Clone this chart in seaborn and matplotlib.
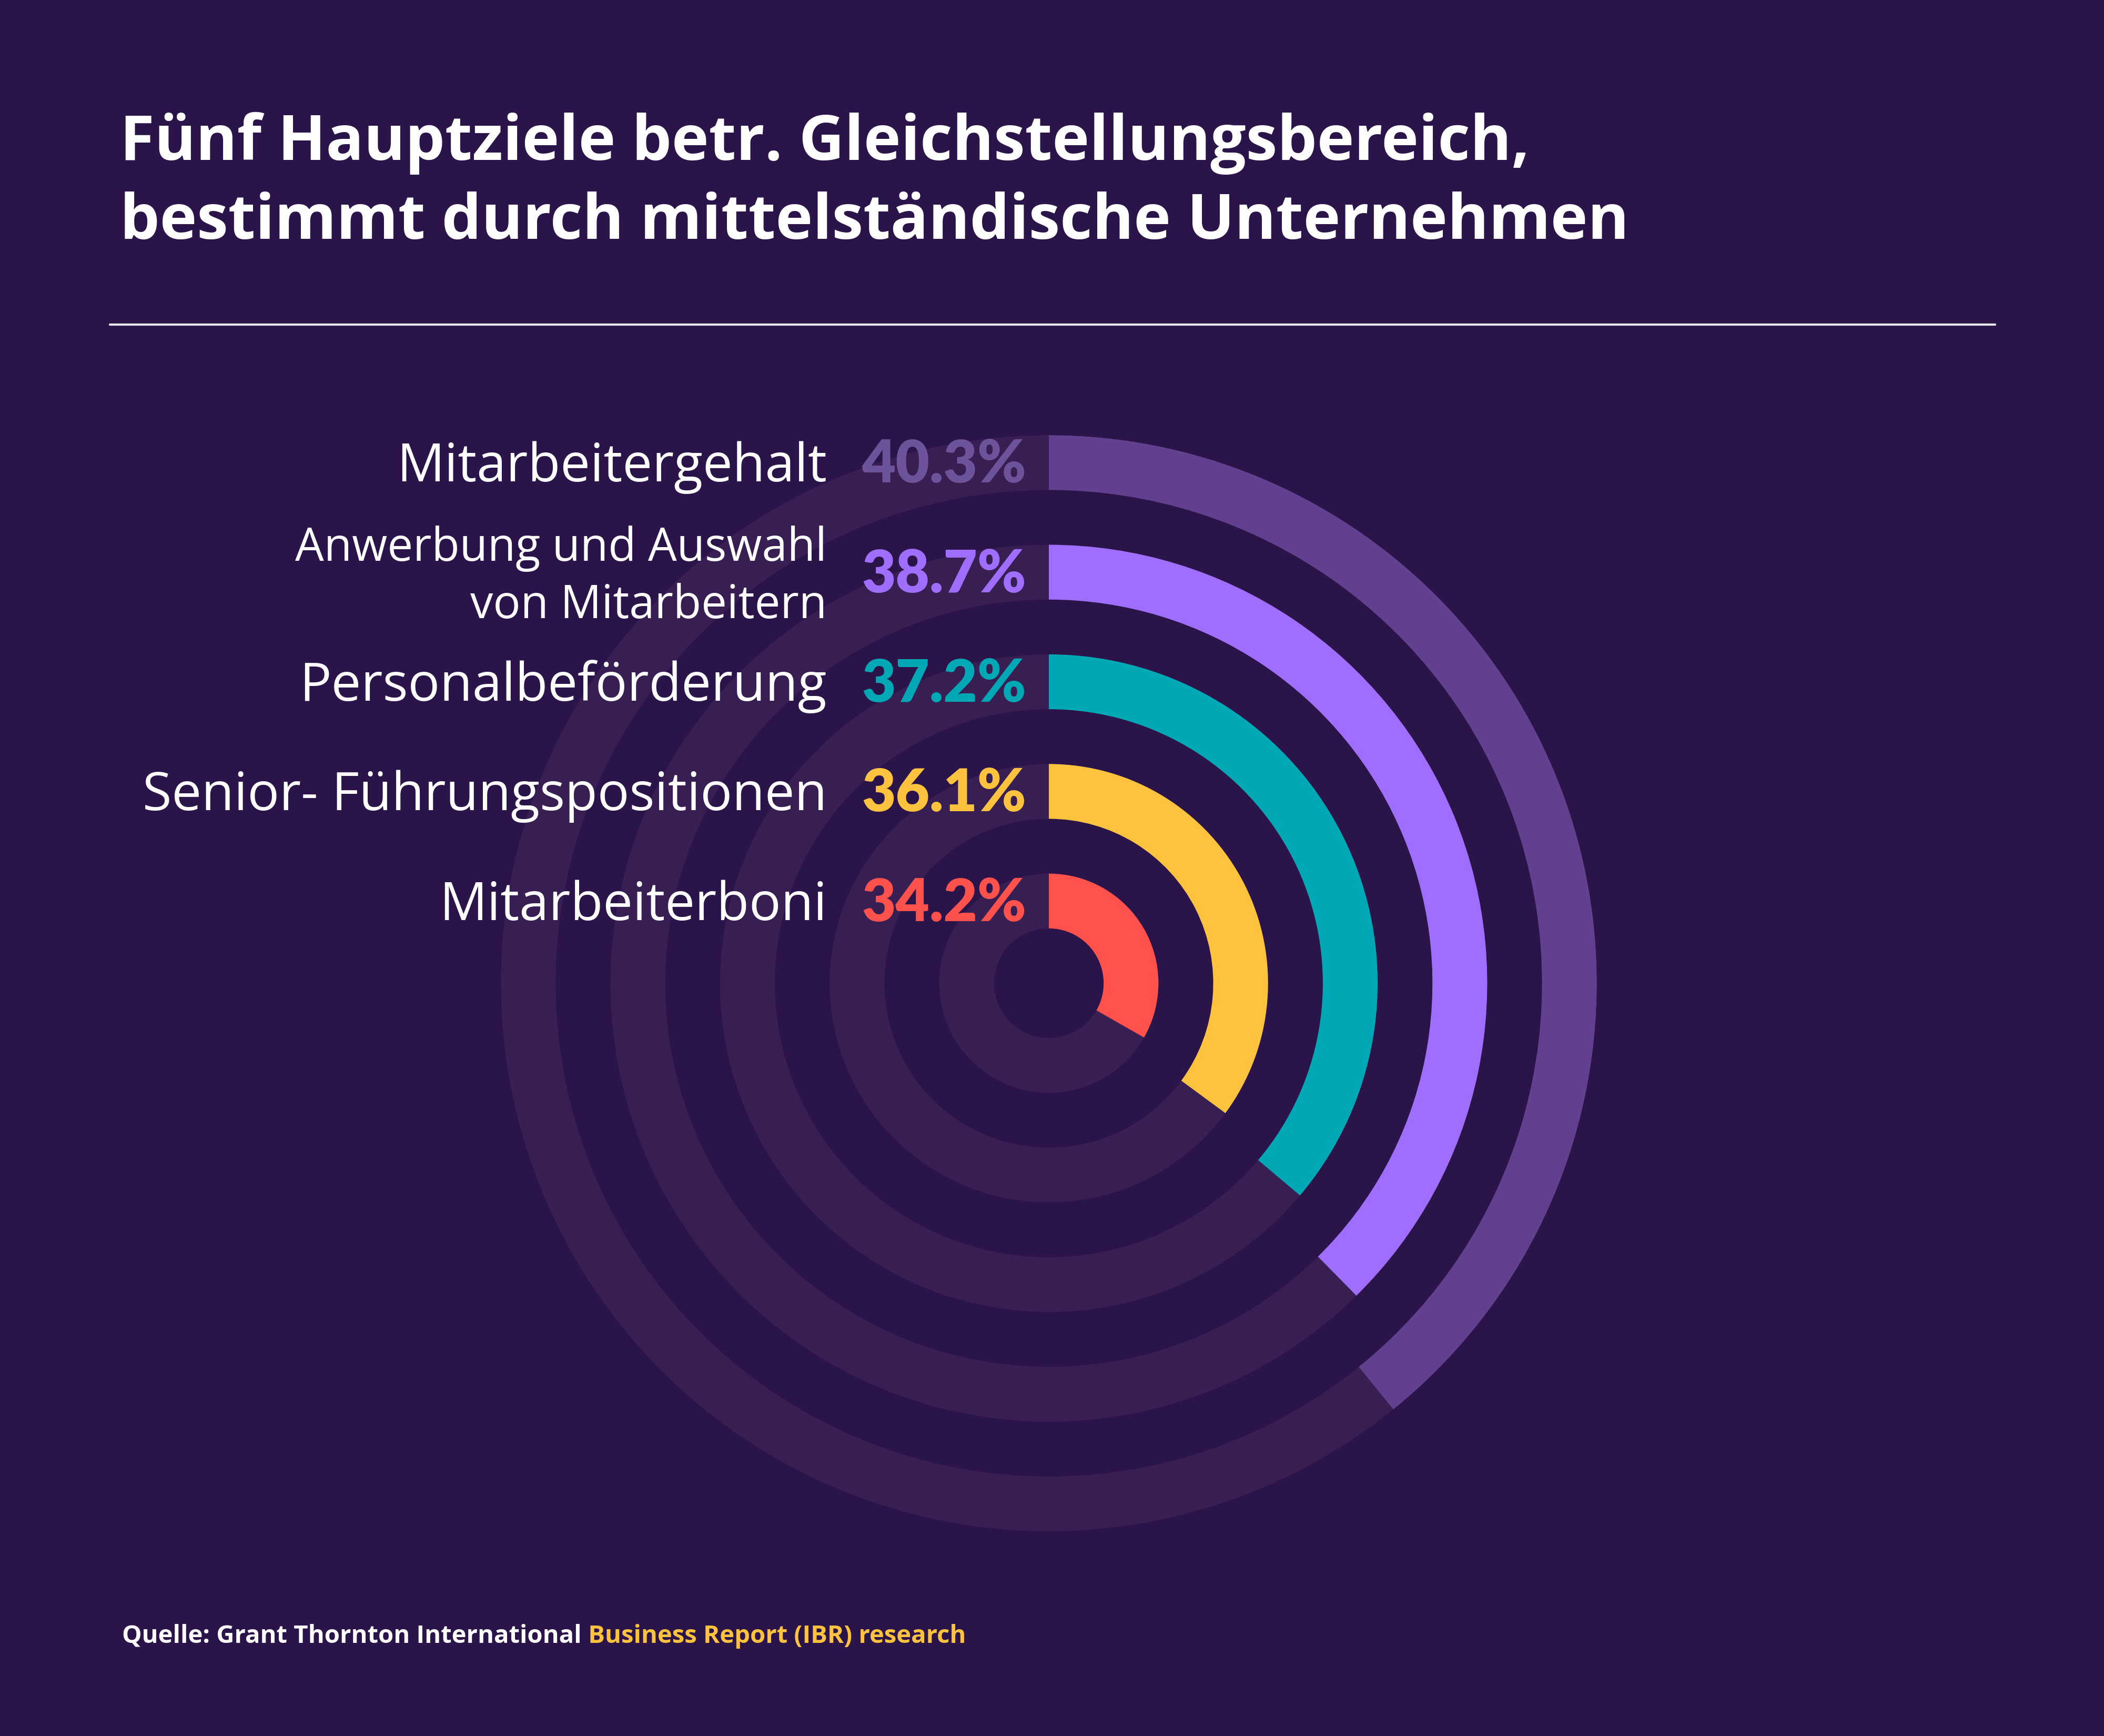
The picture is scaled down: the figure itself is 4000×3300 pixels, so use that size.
import numpy as np
import matplotlib
matplotlib.use("Agg")
import matplotlib.pyplot as plt
import matplotlib.transforms as mtransforms
from matplotlib.lines import Line2D
import seaborn as sns

# ---------------- data ----------------
categories = ["Mitarbeitergehalt",
              "Anwerbung und Auswahl\nvon Mitarbeitern",
              "Personalbeförderung",
              "Senior- Führungspositionen",
              "Mitarbeiterboni"]
values = [40.3, 38.7, 37.2, 36.1, 34.2]
value_labels = ["40.3%", "38.7%", "37.2%", "36.1%", "34.2%"]
title_lines = ["Fünf Hauptziele betr. Gleichstellungsbereich,",
               "bestimmt durch mittelständische Unternehmen"]
source_prefix = "Quelle: Grant Thornton International"
source_highlight = " Business Report (IBR) research"

# ---------------- style ----------------
bar_colors = ["#61418f", "#a06efc", "#00a7b5", "#fdc23e", "#ff524c"]
label_colors = ["#6d5399", "#a06efc", "#00a7b5", "#fdc23e", "#ff524c"]
BG = "#2a1449"
TRACK = "#371f53"
YELLOW = "#fdc23e"

sns.set_theme(style="white")
plt.rcParams['font.family'] = ['Open Sans', 'DejaVu Sans']

W, H = 4000, 3300
fig = plt.figure(figsize=(W / 100, H / 100), dpi=100, facecolor=BG)

cx, cy, R = 1994, 1869, 1041.8
ax = fig.add_axes([(cx - R) / W, (H - cy - R) / H, 2 * R / W, 2 * R / H],
                  projection='polar')
ax.set_theta_zero_location('N')
ax.set_theta_direction(-1)
ax.set_ylim(0, 10)
ax.axis('off')

n = len(values)
rings = np.arange(n)[::-1]          # first category -> outermost ring
bottoms = 2 * rings + 1.0
deg_per_point = 3.5
theta_w = np.deg2rad(np.array(values) * deg_per_point)

# background tracks (full circles)
ax.bar(np.zeros(n), np.ones(n), width=2 * np.pi, bottom=bottoms,
       color=TRACK, align='edge', linewidth=0)
# value arcs
ax.bar(np.zeros(n), np.ones(n), width=theta_w, bottom=bottoms,
       color=bar_colors, align='edge', linewidth=0)

# labels tied to ring tops
for i in range(n):
    rmid = bottoms[i] + 0.5
    big = "\n" not in categories[i]
    t_lab = mtransforms.offset_copy(ax.transData, fig=fig, x=-422,
                                    y=-36 if big else -10, units='dots')
    ax.text(0, rmid, categories[i], transform=t_lab, ha='right',
            va='baseline' if big else 'center',
            fontsize=72.5 if big else 62.5, color='white', linespacing=1.32)
    t_val = mtransforms.offset_copy(ax.transData, fig=fig, x=-43, y=-38,
                                    units='dots')
    ax.text(0, rmid, value_labels[i], transform=t_val, ha='right',
            va='baseline', fontsize=80, fontweight='heavy',
            family=['Lato', 'DejaVu Sans'], color=label_colors[i])

# title
fig.text(228 / W, 1 - 304 / H, title_lines[0], fontsize=86,
         fontweight='bold', color='white', va='baseline', ha='left')
fig.text(228 / W, 1 - 454 / H, title_lines[1], fontsize=86,
         fontweight='bold', color='white', va='baseline', ha='left')

# separator line
fig.add_artist(Line2D([209 / W, 3793 / W], [1 - 617 / H, 1 - 617 / H],
                      color='white', lw=3, alpha=0.9))

# source
t1 = fig.text(232 / W, 1 - 3123 / H, source_prefix, fontsize=34,
              fontweight='bold', color='white', va='baseline', ha='left')
ax.annotate(source_highlight, xy=(1, 0), xycoords=t1, fontsize=34,
            fontweight='bold', color=YELLOW, va='bottom', ha='left',
            annotation_clip=False)

fig.savefig("out.png", dpi=100, facecolor=BG)
